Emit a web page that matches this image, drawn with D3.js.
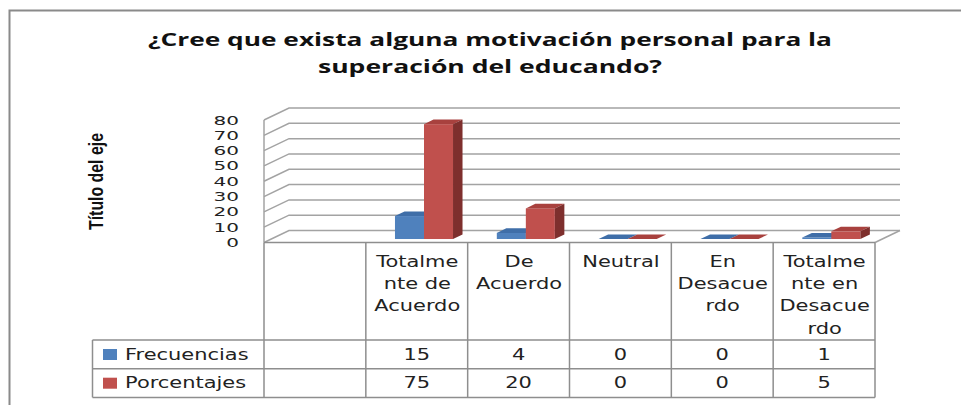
<!DOCTYPE html>
<html>
<head>
<meta charset="utf-8">
<script src="https://cdn.jsdelivr.net/npm/d3@7"></script>
<style>
  body { margin: 0; background: #fff; }
  svg { display: block; }
  .tbl text { font-family: "DejaVu Sans", Verdana, sans-serif; font-size: 16.5px; fill: #222; }
</style>
</head>
<body>
<svg width="961" height="405"></svg>
<script>
const categories = ["", "Totalmente de Acuerdo", "De Acuerdo", "Neutral", "En Desacuerdo", "Totalmente en Desacuerdo"];
const series = ["Frecuencias", "Porcentajes"];
const frecuencias = [null, 15, 4, 0, 0, 1];
const porcentajes = [null, 75, 20, 0, 0, 5];
const yTicks = [0, 10, 20, 30, 40, 50, 60, 70, 80];
const titleLines = ["¿Cree que exista alguna motivación personal para la", "superación del educando?"];
const axisTitle = "Título del eje";

const values = {Frecuencias: frecuencias, Porcentajes: porcentajes};
const faces = {
  Frecuencias: {front: "#4f81bd", top: "#3f6ea8", side: "#2f5687"},
  Porcentajes: {front: "#c0504d", top: "#a8413e", side: "#7e2f2d"}
};

const svg = d3.select("svg");
const gridColor = "#a3a3a3";
const lineColor = "#8e8e8e";

// depth of the 3d box and where the bars sit inside it
const DX = 25, DY = -12;
const f0 = 0.29, f1 = 0.67;

const x = d3.scaleBand().domain(d3.range(categories.length)).range([264, 875]);
const y = d3.scaleLinear().domain([0, 80]).range([242.5, 120]);
const inner = d3.scaleBand().domain(series)
  .range([x.bandwidth() * 0.215, x.bandwidth() * 0.785]);

// outer frame (only top and left edge show)
svg.append("path")
  .attr("d", "M9.5,405V10.5H961")
  .attr("fill", "none").attr("stroke", "#8a8a8a").attr("stroke-width", 2);

// title
svg.append("g").selectAll("text")
  .data(titleLines)
  .join("text")
    .attr("x", 490)
    .attr("y", (d, i) => 46 + i * 27)
    .attr("text-anchor", "middle")
    .attr("textLength", (d, i) => i ? 344 : 684)
    .attr("lengthAdjust", "spacingAndGlyphs")
    .style("font-family", "'Open Sans', sans-serif")
    .style("font-weight", 700)
    .style("font-size", "18px")
    .attr("fill", "#111")
    .text(d => d);

// axis title
svg.append("text")
  .attr("transform", "translate(103,181.5) rotate(-90)")
  .attr("text-anchor", "middle")
  .attr("textLength", 97)
  .attr("lengthAdjust", "spacingAndGlyphs")
  .style("font-family", "'Liberation Sans Narrow', 'Arial Narrow', sans-serif")
  .style("font-weight", 700)
  .style("font-size", "20px")
  .attr("fill", "#111")
  .text(axisTitle);

// walls: gridlines on the back and the left side
const x0 = x.range()[0], x1 = x.range()[1];
const grid = svg.append("g")
  .attr("stroke", gridColor)
  .attr("stroke-width", 1.5)
  .attr("fill", "none");

grid.selectAll("path")
  .data(yTicks)
  .join("path")
    .attr("d", d => `M${x0},${y(d)}L${x0 + DX},${y(d) + DY}H${x1 + DX}`);

grid.append("path").attr("d", `M${x0},${y(80)}V${y(0)}`);
grid.append("path").attr("d", `M${x1},${y(0)}L${x1 + DX},${y(0) + DY}`);

// y axis labels
const yAxis = svg.append("g")
  .attr("transform", "translate(239,0)")
  .call(d3.axisLeft(y).tickValues(yTicks).tickSize(0).tickPadding(0));
yAxis.select(".domain").remove();
yAxis.selectAll("text")
  .attr("transform", "scale(1.6,1)")
  .style("font-family", "'DejaVu Sans', Verdana, sans-serif")
  .style("font-size", "12.5px")
  .attr("fill", "#222");

// 3d bars
const ox = DX * f0, oy = DY * f0;
const ddx = DX * (f1 - f0), ddy = DY * (f1 - f0);
const bars = [];
categories.forEach((c, i) => {
  series.forEach(s => {
    const v = values[s][i];
    if (v == null) return;
    const l = x(i) + inner(s) + ox;
    bars.push({s, l, r: l + inner.bandwidth(), yt: y(v) + oy, yb: y(0) + oy});
  });
});

const bar = svg.append("g").selectAll("g")
  .data(bars)
  .join("g");

bar.append("rect")
  .attr("x", d => d.l)
  .attr("y", d => d.yt)
  .attr("width", d => d.r - d.l)
  .attr("height", d => d.yb - d.yt)
  .attr("fill", d => faces[d.s].front);

bar.append("path")
  .attr("d", d => `M${d.l},${d.yt}H${d.r}l${ddx},${ddy}H${d.l + ddx}Z`)
  .attr("fill", d => faces[d.s].top);

bar.append("path")
  .attr("d", d => `M${d.r},${d.yt}l${ddx},${ddy}V${d.yb + ddy}L${d.r},${d.yb}Z`)
  .attr("fill", d => faces[d.s].side);

// data table under the chart
const headTop = y(0), headBot = 340, rowH = 28.7;
const legendLeft = 92.5;
const sx = 1.27;

function wrap(label, max) {
  const lines = [];
  let line = "";
  for (let w of label.split(" ")) {
    if (!w) continue;
    if (line && (line + " " + w).length <= max) { line += " " + w; continue; }
    if (line) lines.push(line);
    while (w.length > max) { lines.push(w.slice(0, max)); w = w.slice(max); }
    line = w;
  }
  if (line) lines.push(line);
  return lines;
}

const tbl = svg.append("g").attr("class", "tbl");
const tl = tbl.append("g")
  .attr("stroke", lineColor)
  .attr("stroke-width", 1.5)
  .attr("fill", "none");

const rowsBot = headBot + rowH * series.length;
tl.append("path").attr("d", `M${x0},${headTop}H${x1}`);
tl.selectAll(".col")
  .data(d3.range(categories.length + 1))
  .join("path")
    .attr("class", "col")
    .attr("d", i => `M${x0 + i * x.bandwidth()},${headTop}V${rowsBot}`);
tl.selectAll(".row")
  .data(d3.range(series.length + 1))
  .join("path")
    .attr("class", "row")
    .attr("d", i => `M${legendLeft},${headBot + i * rowH}H${x1}`);
tl.append("path").attr("d", `M${legendLeft},${headBot}V${rowsBot}`);

// header labels
tbl.selectAll(".head")
  .data(categories)
  .join("g")
    .attr("class", "head")
    .attr("transform", (d, i) => `translate(${x(i) + x.bandwidth() / 2 + 0.5},267)`)
  .selectAll("text")
  .data(d => wrap(d, 7))
  .join("text")
    .attr("transform", (d, j) => `translate(0,${j * 22.2}) scale(${sx},1)`)
    .attr("text-anchor", "middle")
    .text(d => d);

// series rows
const row = tbl.selectAll(".srow")
  .data(series)
  .join("g")
    .attr("class", "srow")
    .attr("transform", (d, i) => `translate(0,${headBot + i * rowH})`);

row.append("rect")
  .attr("x", 103)
  .attr("y", 9)
  .attr("width", 14)
  .attr("height", 11)
  .attr("fill", d => faces[d].front);

row.append("text")
  .attr("transform", `translate(125,19.5) scale(${sx},1)`)
  .text(d => d);

row.selectAll(".val")
  .data(s => values[s].map((v, i) => ({v, i})).filter(d => d.v != null))
  .join("text")
    .attr("class", "val")
    .attr("transform", d => `translate(${x(d.i) + x.bandwidth() / 2},19.5) scale(${sx},1)`)
    .attr("text-anchor", "middle")
    .text(d => d.v);
</script>
</body>
</html>
